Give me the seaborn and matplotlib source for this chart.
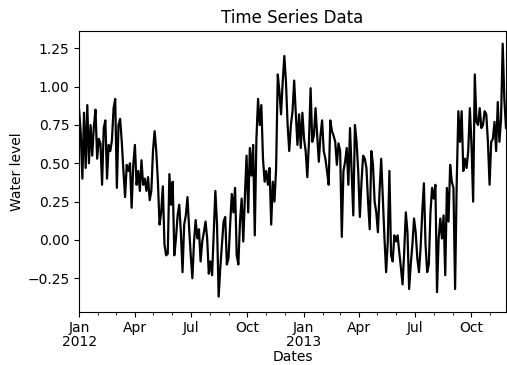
import pandas as pd
import matplotlib
matplotlib.use('Agg')
import matplotlib.pyplot as plt
import matplotlib.dates as mdates
import seaborn as sns

# water level readings, roughly every 2.7 days, Jan 2012 - late Nov 2013
level_2012_h1 = [0.85, 0.70, 0.40, 0.83, 0.47, 0.88, 0.50, 0.75, 0.55, 0.74,
                 0.85, 0.53, 0.66, 0.63, 0.36, 0.73, 0.78, 0.40, 0.62, 0.58,
                 0.65, 0.86, 0.92, 0.34, 0.75, 0.79, 0.64, 0.45, 0.28, 0.49,
                 0.45, 0.50, 0.21, 0.49, 0.62, 0.36, 0.45, 0.32, 0.52, 0.36,
                 0.40, 0.32, 0.41, 0.26, 0.32, 0.58, 0.71, 0.58, 0.38, 0.10,
                 0.18, 0.35, -0.03, -0.10, -0.09, 0.43, 0.23, 0.38, -0.10, 0.01,
                 0.16, 0.23, 0.05, -0.21, 0.10, 0.16, 0.28]
level_2012_h2 = [0.08, -0.10, -0.25, -0.01, 0.13, 0.01, 0.07, -0.14, -0.01, 0.05,
                 0.12, 0.01, -0.22, -0.14, -0.23, 0.05, 0.32, 0.10, -0.37, -0.18,
                 -0.03, 0.12, 0.15, -0.16, -0.12, 0.10, 0.30, 0.18, 0.34, -0.10,
                 -0.16, 0.12, 0.27, -0.01, 0.29, 0.55, 0.18, 0.60, 0.42, 0.62,
                 0.03, 0.66, 0.92, 0.75, 0.88, 0.53, 0.38, 0.45, 0.36, 0.47,
                 0.10, 0.38, 0.25, 0.47, 1.08, 0.97, 0.82, 1.03, 1.20, 1.03,
                 0.75, 0.58, 0.75, 0.84]
level_2013_h1 = [1.04, 0.82, 0.62, 0.82, 0.60, 0.83, 0.66, 0.58, 0.41, 0.64,
                 0.99, 0.64, 0.68, 0.86, 0.68, 0.51, 0.68, 0.78, 0.58, 0.53,
                 0.45, 0.36, 0.78, 0.71, 0.68, 0.64, 0.49, 0.63, 0.58, 0.02,
                 0.45, 0.51, 0.60, 0.36, 0.73, 0.45, 0.16, 0.75, 0.64, 0.45,
                 0.15, 0.38, 0.55, 0.53, 0.47, 0.25, 0.07, 0.58, 0.49, 0.25,
                 0.18, 0.05, 0.32, 0.53, 0.27, 0.01, -0.21, -0.01, 0.45, -0.10,
                 -0.14, 0.03, -0.01, 0.03, -0.08, -0.18, -0.29, -0.08, 0.18, 0.05,
                 -0.32]
level_2013_h2 = [-0.16, -0.03, 0.14, 0.05, -0.12, -0.21, -0.05, 0.18, 0.37, -0.03,
                 -0.21, -0.16, 0.18, 0.34, 0.27, 0.36, -0.34, 0.01, 0.14, 0.01,
                 0.16, -0.23, 0.34, 0.12, 0.49, 0.38, 0.34, -0.32, 0.38, 0.84,
                 0.64, 0.84, 0.45, 0.53, 0.47, 0.58, 0.86, 0.62, 0.25, 1.08,
                 0.77, 0.75, 0.86, 0.73, 0.75, 0.84, 0.82, 0.64, 0.36, 0.64,
                 0.66, 0.77, 0.58, 0.90, 0.64, 0.79, 1.28, 0.92, 0.73]

quarter_ticks = ['2012-01-01', '2012-04-01', '2012-07-01', '2012-10-01',
                 '2013-01-01', '2013-04-01', '2013-07-01', '2013-10-01']
quarter_labels = ['Jan\n2012', 'Apr', 'Jul', 'Oct', 'Jan\n2013', 'Apr', 'Jul', 'Oct']

values = level_2012_h1 + level_2012_h2 + level_2013_h1 + level_2013_h2
dates = pd.date_range('2012-01-01', '2013-11-27', periods=len(values))
df = pd.DataFrame({'Dates': dates, 'Water level': values})

fig, ax = plt.subplots(figsize=(5.07, 3.65), dpi=100)
sns.lineplot(data=df, x='Dates', y='Water level', color='black', linewidth=1.6, ax=ax)
ax.set_xlim(dates[0], dates[-1])
ax.set_ylim(-0.468, 1.363)
ax.set_xticks(pd.to_datetime(quarter_ticks))
ax.set_xticklabels(quarter_labels, rotation=0)
for lab in ax.get_xticklabels():
    lab.set_linespacing(0.95)
ax.xaxis.set_minor_locator(mdates.MonthLocator())
ax.set_title('Time Series Data')
ax.set_xlabel('Dates', labelpad=1)
ax.set_ylabel('Water level', labelpad=2)
fig.subplots_adjust(left=0.156, right=0.998, top=0.915, bottom=0.146)
fig.savefig('out.png', dpi=100)
